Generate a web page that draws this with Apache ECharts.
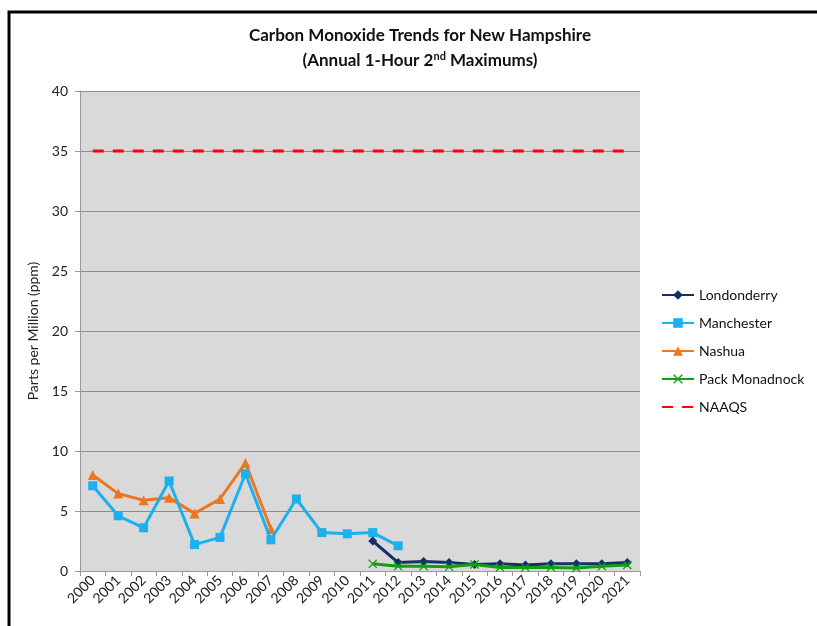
<!DOCTYPE html>
<html>
<head>
<meta charset="utf-8">
<script src="https://cdn.jsdelivr.net/npm/echarts@6/dist/echarts.min.js"></script>
<style>
  html, body { margin: 0; padding: 0; background: #fff; }
  #chart { width: 817px; height: 626px; }
</style>
</head>
<body>
<div id="chart"></div>
<script>
var years = ['2000','2001','2002','2003','2004','2005','2006','2007','2008','2009','2010',
             '2011','2012','2013','2014','2015','2016','2017','2018','2019','2020','2021'];
var londonderry = [null,null,null,null,null,null,null,null,null,null,null,
                   2.5,0.7,0.8,0.7,0.55,0.6,0.5,0.6,0.6,0.6,0.7];
var manchester = [7.1,4.6,3.6,7.5,2.2,2.8,8.1,2.6,6.0,3.2,3.1,3.2,2.1,
                  null,null,null,null,null,null,null,null,null];
var nashua = [8.0,6.45,5.9,6.1,4.8,6.0,9.0,3.5,null,null,null,
              null,null,null,null,null,null,null,null,null,null,null];
var packMonadnock = [null,null,null,null,null,null,null,null,null,null,null,
                     0.6,0.4,0.4,0.35,0.55,0.3,0.3,0.3,0.25,0.4,0.5];
var naaqs = [35,35,35,35,35,35,35,35,35,35,35,35,35,35,35,35,35,35,35,35,35,35];

var font = 'Lato, "Open Sans", sans-serif';
var xMark = 'path://M0,1L1,0L5,4L9,0L10,1L6,5L10,9L9,10L5,6L1,10L0,9L4,5Z';

var myChart = echarts.init(document.getElementById('chart'));

option = {
    backgroundColor: '#fff',
    animation: false,
    title: {
        left: 415,
        top: 22,
        textAlign: 'center',
        text: 'Carbon Monoxide Trends for New Hampshire',
        subtext: '{n|(Annual 1-Hour 2}{s|nd}{n| Maximums)}',
        itemGap: 7,
        textStyle: { fontFamily: font, fontSize: 17, fontWeight: 'bold', color: '#111' },
        subtextStyle: {
            rich: {
                n: { fontFamily: font, fontSize: 17, fontWeight: 'bold', color: '#111' },
                s: { fontFamily: font, fontSize: 11, fontWeight: 'bold', color: '#111', verticalAlign: 'top', padding: [0, 0, 8, 0] }
            }
        }
    },
    graphic: [{
        type: 'rect',
        shape: { x: 9, y: 12, width: 900, height: 700 },
        style: { fill: 'none', stroke: '#000', lineWidth: 3 },
        z: 100
    }],
    legend: {
        orient: 'vertical',
        left: 656,
        top: 283,
        itemWidth: 32,
        itemHeight: 12,
        itemGap: 14,
        textStyle: { fontFamily: font, fontSize: 14, color: '#111' },
        data: ['Londonderry', 'Manchester', 'Nashua', 'Pack Monadnock',
               { name: 'NAAQS', itemStyle: { opacity: 0 } }]
    },
    grid: {
        left: 80, right: 177, top: 91, bottom: 55,
        show: true,
        backgroundColor: '#d9d9d9',
        borderWidth: 0
    },
    xAxis: {
        type: 'category',
        data: years,
        boundaryGap: true,
        axisLine: { lineStyle: { color: '#999', width: 1 } },
        axisTick: { show: true, length: 5, lineStyle: { color: '#999' } },
        axisLabel: { rotate: 45, fontFamily: font, fontSize: 14, color: '#222', margin: 7, interval: 0 },
        splitLine: { show: false }
    },
    yAxis: {
        type: 'value',
        min: 0, max: 40, interval: 5,
        name: 'Parts per Million (ppm)',
        nameLocation: 'middle',
        nameGap: 40,
        nameTextStyle: { fontFamily: font, fontSize: 14, color: '#222' },
        axisLine: { show: true, lineStyle: { color: '#999', width: 1 } },
        axisTick: { show: true, length: 5, lineStyle: { color: '#999' } },
        axisLabel: { fontFamily: font, fontSize: 14, color: '#222', margin: 12 },
        splitLine: { lineStyle: { color: '#8c8c8c', width: 1 } }
    },
    series: [
        {
            name: 'Londonderry', type: 'line', data: londonderry,
            symbol: 'diamond', symbolSize: 9, showAllSymbol: true,
            itemStyle: { color: '#13306a' },
            lineStyle: { color: '#13306a', width: 3 },
            z: 4
        },
        {
            name: 'Manchester', type: 'line', data: manchester,
            symbol: 'rect', symbolSize: 9, showAllSymbol: true,
            itemStyle: { color: '#1eb0ec' },
            lineStyle: { color: '#1eb0ec', width: 3 },
            z: 3
        },
        {
            name: 'Nashua', type: 'line', data: nashua,
            symbol: 'triangle', symbolSize: 10, showAllSymbol: true,
            itemStyle: { color: '#ec7722' },
            lineStyle: { color: '#ec7722', width: 3 },
            z: 2
        },
        {
            name: 'Pack Monadnock', type: 'line', data: packMonadnock,
            symbol: xMark, symbolSize: 9, showAllSymbol: true,
            itemStyle: { color: '#139e13' },
            lineStyle: { color: '#139e13', width: 3 },
            z: 5
        },
        {
            name: 'NAAQS', type: 'line', data: naaqs,
            symbol: 'none',
            itemStyle: { color: '#ff0000' },
            lineStyle: { color: '#ff0000', width: 3, type: [11, 9] },
            z: 2
        }
    ]
};

myChart.setOption(option);
</script>
</body>
</html>
